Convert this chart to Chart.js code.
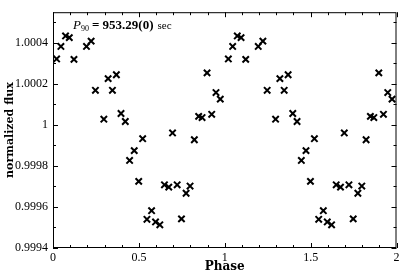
<!DOCTYPE html>
<html>
<head>
<meta charset="utf-8">
<script src="https://cdn.jsdelivr.net/npm/chart.js@4/dist/chart.umd.min.js"></script>
<style>
  html, body { margin: 0; padding: 0; background: #fff; }
  #wrap { width: 403px; height: 274px; }
</style>
</head>
<body>
<div id="wrap"><canvas id="myChart" width="403" height="274"></canvas></div>
<script>
// folded light curve, one cycle (plotted twice: phase and phase + 1)
const phase = [0.021, 0.046, 0.073, 0.095, 0.122, 0.195, 0.222, 0.247, 0.296, 0.321,
               0.346, 0.369, 0.396, 0.421, 0.446, 0.473, 0.499, 0.522, 0.547, 0.574,
               0.597, 0.622, 0.649, 0.674, 0.696, 0.723, 0.748, 0.775, 0.798, 0.823,
               0.848, 0.868, 0.897, 0.924, 0.949, 0.974];
const flux = [1.000322, 1.000383, 1.000434, 1.000426, 1.000320, 1.000383, 1.000409, 1.000169, 1.000028, 1.000226,
              1.000169, 1.000245, 1.000056, 1.000017, 0.999827, 0.999875, 0.999725, 0.999933, 0.999540, 0.999582,
              0.999527, 0.999513, 0.999708, 0.999697, 0.999961, 0.999708, 0.999542, 0.999667, 0.999702, 0.999928,
              1.000042, 1.000036, 1.000254, 1.000052, 1.000158, 1.000126];

const xTicks = [0, 0.5, 1, 1.5, 2];
const yTicks = [0.9994, 0.9996, 0.9998, 1, 1.0002, 1.0004];
const xMinorStep = 0.1;
const yMinorStep = 0.0001;

const periodLabel = '953.29(0)';

// build the two cycles
const points = [];
for (let c = 0; c < 2; c++) {
    for (let i = 0; i < phase.length; i++) {
        points.push({ x: phase[i] + c, y: flux[i] });
    }
}

const serif = 'Liberation Serif';
const black = '#000';

function fmtTick(v) {
    return String(Number(v.toFixed(4)));
}

// inward ticks on all four sides plus the frame
const frameTicks = {
    id: 'frameTicks',
    afterDraw(chart) {
        const ctx = chart.ctx;
        const a = chart.chartArea;
        const xs = chart.scales.x, ys = chart.scales.y;
        ctx.save();
        ctx.strokeStyle = black;
        ctx.lineWidth = 1;
        ctx.strokeRect(a.left + 0.5, a.top + 0.5, a.right - a.left - 1, a.bottom - a.top - 1);
        ctx.beginPath();
        const nx = Math.round((xs.max - xs.min) / xMinorStep);
        for (let i = 0; i <= nx; i++) {
            const v = xs.min + i * xMinorStep;
            const major = xTicks.some(t => Math.abs(t - v) < 1e-9);
            const len = major ? 5 : 3;
            const px = Math.round(xs.getPixelForValue(v)) + 0.5;
            ctx.moveTo(px, a.bottom); ctx.lineTo(px, a.bottom - len);
            ctx.moveTo(px, a.top); ctx.lineTo(px, a.top + len);
        }
        const ny = Math.floor((ys.max - ys.min) / yMinorStep + 1e-6);
        for (let i = 0; i <= ny; i++) {
            const v = ys.min + i * yMinorStep;
            const major = yTicks.some(t => Math.abs(t - v) < 1e-9);
            const len = major ? 5 : 3;
            const py = Math.round(ys.getPixelForValue(v)) + 0.5;
            ctx.moveTo(a.left, py); ctx.lineTo(a.left + len, py);
            ctx.moveTo(a.right, py); ctx.lineTo(a.right - len, py);
        }
        ctx.stroke();

        // period annotation
        let x = 73;
        const base = 29;
        ctx.fillStyle = black;
        ctx.textBaseline = 'alphabetic';
        ctx.font = 'italic 13px ' + serif;
        ctx.fillText('P', x, base);
        x += ctx.measureText('P').width;
        ctx.font = '8px ' + serif;
        ctx.fillText('90', x, base + 2);
        x += ctx.measureText('90').width + 3;
        ctx.font = 'bold 13px ' + serif;
        const main = '= ' + periodLabel;
        ctx.fillText(main, x, base);
        x += ctx.measureText(main).width + 4;
        ctx.font = '11px ' + serif;
        ctx.fillText('sec', x, base);
        ctx.restore();
    }
};

const ctx = document.getElementById('myChart').getContext('2d');
const myChart = new Chart(ctx, {
    type: 'scatter',
    data: {
        datasets: [{
            data: points,
            pointStyle: 'crossRot',
            pointRadius: 4.5,
            borderWidth: 2,
            borderColor: black,
            backgroundColor: black
        }]
    },
    options: {
        responsive: false,
        animation: false,
        layout: { padding: { top: 3, right: 5, left: 0, bottom: 0 } },
        plugins: { legend: { display: false }, tooltip: { enabled: false } },
        scales: {
            x: {
                type: 'linear',
                min: 0,
                max: 2,
                afterBuildTicks: s => { s.ticks = xTicks.map(v => ({ value: v })); },
                afterFit: s => { s.height = 26; },
                grid: { display: false, drawTicks: false },
                border: { display: false },
                ticks: {
                    color: black,
                    padding: 3,
                    maxRotation: 0,
                    font: { family: serif, size: 12 },
                    callback: v => fmtTick(v)
                },
                title: {
                    display: true,
                    text: 'Phase',
                    color: black,
                    padding: { top: 0, bottom: 0 },
                    font: { family: 'DejaVu Serif', size: 12, weight: 'bold' }
                }
            },
            y: {
                type: 'linear',
                min: 0.9994,
                max: 1.00055,
                afterBuildTicks: s => { s.ticks = yTicks.map(v => ({ value: v })); },
                afterFit: s => { s.width = 53; },
                grid: { display: false, drawTicks: false },
                border: { display: false },
                ticks: {
                    color: black,
                    padding: 5,
                    font: { family: serif, size: 12 },
                    callback: v => fmtTick(v)
                },
                title: {
                    display: true,
                    text: 'normalized flux',
                    color: black,
                    padding: { top: 4, bottom: 0 },
                    font: { family: 'DejaVu Serif', size: 11, weight: 'bold' }
                }
            }
        }
    },
    plugins: [frameTicks]
});
</script>
</body>
</html>
